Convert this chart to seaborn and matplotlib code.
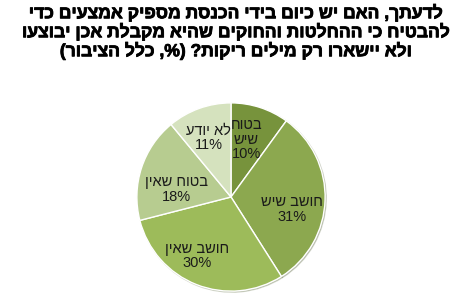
import matplotlib
matplotlib.use("Agg")
import numpy as np
import matplotlib.pyplot as plt
import matplotlib.patheffects as pe
import seaborn as sns

title_lines = [
    "לדעתך, האם יש כיום בידי הכנסת מספיק אמצעים כדי",
    "להבטיח כי ההחלטות והחוקים שהיא מקבלת אכן יבוצעו",
    "ולא יישארו רק מילים ריקות? (%, כלל הציבור)",
]
categories = ["בטוח\nשיש", "חושב שיש", "חושב שאין", "בטוח שאין", "לא יודע"]
values = [10, 31, 30, 18, 11]
colors = ["#77933C", "#8CA84F", "#9DBB5A", "#B7CC90", "#D5E2BE"]

# label placement style (best-fit like): radius fraction and clockwise angle shift
label_radius = [0.63, 0.66, 0.72, 0.59, 0.67]
label_shift = [-3, 10, 8, -10, -1]

MIRROR = {"(": ")", ")": "("}


def rtl(s):
    """Convert a logical-order Hebrew line to visual (left-to-right) order."""
    return "".join(MIRROR.get(c, c) for c in reversed(s))


sns.set_theme(style="white")
plt.rcParams["font.family"] = ["Liberation Sans", "DejaVu Sans"]

fig = plt.figure(figsize=(4.74, 3.0), dpi=100)
fig.patch.set_facecolor("white")

for i, line in enumerate(title_lines):
    fig.text(0.498, 1 - (13 + 19 * i) / 300, rtl(line), ha="center", va="center",
             fontsize=12.6, fontweight="bold", color="black",
             path_effects=[pe.withStroke(linewidth=0.6, foreground="black")])

ax = fig.add_axes([(231 - 96) / 474, (103 - 96) / 300, 192 / 474, 192 / 300])
labels = ["\n".join(rtl(p) for p in c.split("\n")) + f"\n{v}%"
          for c, v in zip(categories, values)]
wedges, texts = ax.pie(values, labels=labels, colors=colors, startangle=90,
                       counterclock=False, labeldistance=0.68,
                       shadow=dict(ox=0.008, oy=-0.008, shade=0.5, alpha=0.25),
                       wedgeprops=dict(edgecolor="white", linewidth=1.0),
                       textprops=dict(fontsize=10.5, color="#1a1a1a"))
for w, t, r, s in zip(wedges, texts, label_radius, label_shift):
    mid = np.deg2rad((w.theta1 + w.theta2) / 2 - s)
    t.set_position((r * np.cos(mid), r * np.sin(mid)))
    t.set_ha("center")
    t.set_va("center")
    t.set_linespacing(1.05)
ax.set_xlim(-1.02, 1.02)
ax.set_ylim(-1.02, 1.02)
ax.set_aspect("equal")
ax.axis("off")

fig.savefig("out.png", dpi=100, facecolor="white")
